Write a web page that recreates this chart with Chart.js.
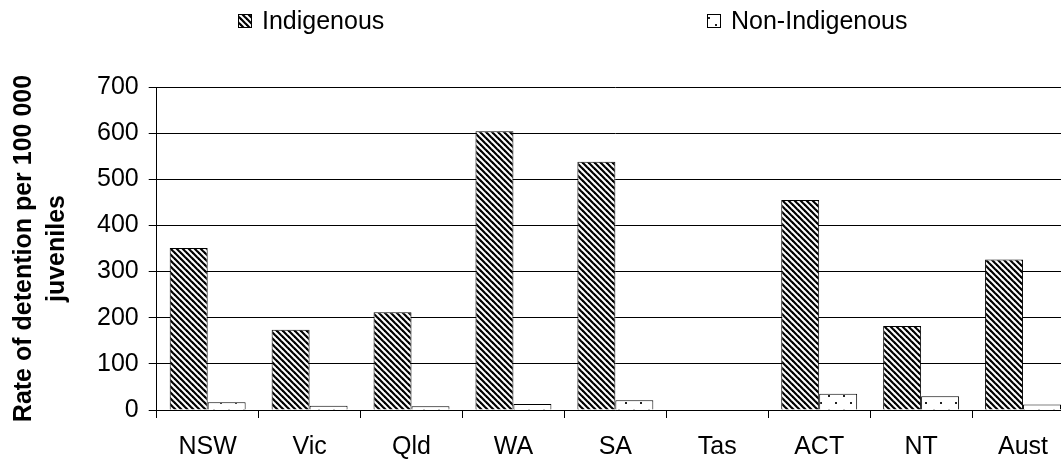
<!DOCTYPE html>
<html>
<head>
<meta charset="utf-8">
<script src="https://cdn.jsdelivr.net/npm/chart.js@4"></script>
<style>
html,body{margin:0;padding:0;background:#fff;overflow:hidden;}
#wrap{width:1074px;height:464px;}
</style>
</head>
<body>
<div id="wrap"><canvas id="c" width="1074" height="464" style="width:1074px;height:464px"></canvas></div>
<script>
const categories = ['NSW','Vic','Qld','WA','SA','Tas','ACT','NT','Aust'];
const indigenous = [351, 174, 212, 604, 538, 0, 455, 182, 326];
const nonIndigenous = [17, 9, 8, 13, 21, 0, 35, 30, 12];
const seriesNames = ['Indigenous', 'Non-Indigenous'];
const yTitle = ['Rate of detention per 100 000', 'juveniles'];

const FONT = "'Liberation Sans', Arial, sans-serif";

function stripePattern() {
  const s = 6;
  const c = document.createElement('canvas');
  c.width = s; c.height = s;
  const x = c.getContext('2d');
  x.fillStyle = '#fff'; x.fillRect(0,0,s,s);
  x.strokeStyle = '#000'; x.lineWidth = 2.2;
  for (let k = -2; k <= 2; k++) {
    x.beginPath();
    x.moveTo(-s, -s + k*s);
    x.lineTo(2*s, 2*s + k*s);
    x.stroke();
  }
  return x.createPattern(c, 'repeat');
}
function dotPattern() {
  const w = 15, h = 14;
  const c = document.createElement('canvas');
  c.width = w; c.height = h;
  const x = c.getContext('2d');
  x.fillStyle = '#fff'; x.fillRect(0,0,w,h);
  x.fillStyle = '#222';
  x.fillRect(3,3,2,2);
  x.fillRect(10,10,2,2);
  return x.createPattern(c, 'repeat');
}
const pats = [stripePattern(), dotPattern()];

const legendPlugin = {
  id: 'customLegend',
  afterDraw(chart) {
    const ctx = chart.ctx;
    const xs = [238, 707];
    ctx.save();
    ctx.font = '25px ' + FONT;
    ctx.textBaseline = 'middle';
    seriesNames.forEach((n, i) => {
      const bx = xs[i], by = 14;
      ctx.fillStyle = pats[i];
      ctx.fillRect(bx, by, 14, 14);
      ctx.strokeStyle = '#000'; ctx.lineWidth = 1;
      ctx.strokeRect(bx + 0.5, by + 0.5, 13, 13);
      ctx.fillStyle = '#000';
      ctx.fillText(n, bx + 24, 22);
    });
    ctx.restore();
  }
};

new Chart(document.getElementById('c'), {
  type: 'bar',
  data: {
    labels: categories,
    datasets: [
      { label: seriesNames[0], data: indigenous, backgroundColor: pats[0], borderColor: '#000', borderWidth: 1 },
      { label: seriesNames[1], data: nonIndigenous, backgroundColor: pats[1], borderColor: '#000', borderWidth: 1 }
    ]
  },
  options: {
    responsive: false,
    animation: false,
    devicePixelRatio: 1,
    categoryPercentage: 0.745,
    barPercentage: 1,
    layout: { padding: { top: 87, left: 4, right: 0, bottom: -12 } },
    plugins: { legend: { display: false }, tooltip: { enabled: false } },
    scales: {
      x: {
        grid: { display: true, drawOnChartArea: false, offset: true, color: '#000', tickLength: 8, lineWidth: 1 },
        border: { color: '#000', width: 1 },
        ticks: { color: '#000', font: { family: FONT, size: 25 }, padding: 14, maxRotation: 0 }
      },
      y: {
        min: 0, max: 700,
        ticks: { stepSize: 100, color: '#000', font: { family: FONT, size: 25 }, padding: 10 },
        grid: { color: '#000', lineWidth: 1, tickLength: 8 },
        border: { color: '#000', width: 1 },
        title: { display: true, text: yTitle, color: '#000', font: { family: FONT, size: 25, weight: 'bold', lineHeight: 1.3 }, padding: { top: 4, bottom: 14 } }
      }
    }
  },
  plugins: [legendPlugin]
});
</script>
</body>
</html>
